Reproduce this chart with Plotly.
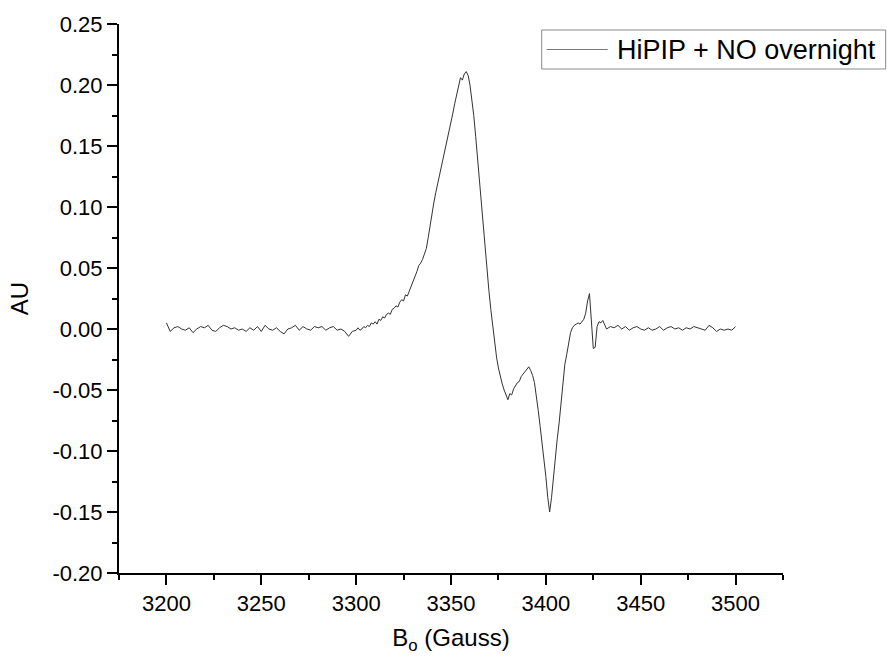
import plotly.graph_objects as go

# ---------------- data ----------------
field_G = [
    3200, 3202, 3204, 3206, 3208, 3210, 3212, 3214, 3216, 3218,
    3220, 3222, 3224, 3226, 3228, 3230, 3232, 3234, 3236, 3238,
    3240, 3242, 3244, 3246, 3248, 3250, 3252, 3254, 3256, 3258,
    3260, 3262, 3264, 3266, 3268, 3270, 3272, 3274, 3276, 3278,
    3280, 3282, 3284, 3286, 3288, 3290, 3292, 3294, 3296, 3298,
    3300, 3301, 3302, 3303, 3304, 3305, 3306, 3307, 3308, 3309,
    3310, 3311, 3312, 3313, 3314, 3315, 3316, 3317, 3318, 3319,
    3320, 3321, 3322, 3323, 3324, 3325, 3326, 3327, 3328, 3329,
    3330, 3331, 3332, 3333, 3334, 3335, 3336, 3337, 3338, 3339,
    3340, 3341, 3342, 3343, 3344, 3345, 3346, 3347, 3348, 3349,
    3350, 3351, 3352, 3353, 3354, 3355, 3356, 3357, 3358, 3359,
    3360, 3361, 3362, 3363, 3364, 3365, 3366, 3367, 3368, 3369,
    3370, 3371, 3372, 3373, 3374, 3375, 3376, 3377, 3378, 3379,
    3380, 3381, 3382, 3383, 3384, 3385, 3386, 3387, 3388, 3389,
    3390, 3391, 3392, 3393, 3394, 3395, 3396, 3397, 3398, 3399,
    3400, 3401, 3402, 3403, 3404, 3405, 3406, 3407, 3408, 3409,
    3410, 3411, 3412, 3413, 3414, 3415, 3416, 3417, 3418, 3419,
    3420, 3421, 3422, 3423, 3424, 3425, 3426, 3427, 3428, 3429,
    3430, 3431, 3432,
    3434, 3436, 3438, 3440, 3442, 3444, 3446, 3448, 3450, 3452,
    3454, 3456, 3458, 3460, 3462, 3464, 3466, 3468, 3470, 3472,
    3474, 3476, 3478, 3480, 3482, 3484, 3486, 3488, 3490, 3492,
    3494, 3496, 3498, 3500,
]

signal_AU = [
    0.005, -0.002, 0.001, 0.002, 0.000, -0.001, 0.001, -0.003, 0.000, 0.002,
    0.001, 0.003, -0.001, -0.002, 0.001, 0.003, 0.002, 0.000, 0.001, -0.001,
    0.000, -0.002, 0.001, -0.001, 0.002, -0.002, 0.003, 0.000, -0.001, 0.001,
    -0.002, -0.004, 0.000, 0.001, 0.003, -0.001, 0.002, 0.000, -0.001, 0.002,
    0.001, 0.002, -0.001, 0.001, 0.002, -0.001, 0.000, -0.002, -0.006, -0.002,
    -0.001, 0.001, -0.001, 0.000, 0.002, 0.001, 0.003, 0.002, 0.005, 0.004,
    0.006, 0.004, 0.008, 0.007, 0.010, 0.009, 0.012, 0.013, 0.012, 0.016,
    0.017, 0.019, 0.018, 0.022, 0.024, 0.023, 0.028, 0.027, 0.031, 0.035,
    0.039, 0.042, 0.047, 0.052, 0.054, 0.057, 0.061, 0.066, 0.075, 0.086,
    0.096, 0.104, 0.112, 0.119, 0.126, 0.133, 0.140, 0.147, 0.154, 0.161,
    0.169, 0.177, 0.185, 0.193, 0.200, 0.206, 0.204, 0.209, 0.211, 0.208,
    0.200, 0.189, 0.175, 0.158, 0.140, 0.121, 0.101, 0.081, 0.062, 0.046,
    0.031, 0.016, 0.002, -0.011, -0.023, -0.032, -0.039, -0.045, -0.050, -0.055,
    -0.058, -0.053, -0.054, -0.049, -0.047, -0.044, -0.043, -0.039, -0.037, -0.035,
    -0.032, -0.031, -0.034, -0.038, -0.044, -0.054, -0.067, -0.080, -0.093, -0.107,
    -0.121, -0.138, -0.150, -0.138, -0.120, -0.103, -0.090, -0.077, -0.062, -0.043,
    -0.029, -0.021, -0.012, -0.003, 0.001, 0.003, 0.004, 0.005, 0.004, 0.006,
    0.008, 0.013, 0.023, 0.029, 0.008, -0.016, -0.015, 0.002, 0.006, 0.005,
    0.007, 0.003, 0.000,
    0.002, 0.001, 0.003, 0.000, 0.002, -0.001, 0.001, 0.002, 0.000, -0.001,
    0.001, -0.001, 0.000, 0.002, -0.001, 0.001, 0.002, 0.000, 0.001, -0.001,
    0.001, 0.000, 0.002, 0.001, 0.000, -0.001, 0.003, 0.001, -0.002, 0.000,
    -0.001, 0.000, -0.001, 0.002,
]

series_name = "HiPIP + NO overnight"

x_ticks = [3200, 3250, 3300, 3350, 3400, 3450, 3500]
y_ticks = [-0.20, -0.15, -0.10, -0.05, 0.00, 0.05, 0.10, 0.15, 0.20, 0.25]
y_ticktext = ["-0.20", "-0.15", "-0.10", "-0.05", "0.00", "0.05", "0.10", "0.15", "0.20", "0.25"]

# ---------------- figure ----------------
FONT = "Liberation Sans, Arial, sans-serif"
LINE_COLOR = "#333333"

fig = go.Figure()
fig.add_trace(go.Scatter(
    x=field_G, y=signal_AU, mode="lines", name=series_name,
    line=dict(color=LINE_COLOR, width=1),
    showlegend=False,
))

axis_common = dict(
    showline=True, linecolor="black", linewidth=2,
    ticks="outside", ticklen=10, tickwidth=2, tickcolor="black",
    showgrid=False, zeroline=False, mirror=False,
    tickfont=dict(family=FONT, size=22, color="black"),
)

fig.update_xaxes(
    range=[3175, 3525], tickmode="array", tickvals=x_ticks,
    minor=dict(ticks="outside", ticklen=5, tickwidth=2, tickcolor="black",
               dtick=25, tick0=3175, showgrid=False),
    title=dict(text="B<sub>o</sub>&nbsp;(Gauss)", font=dict(family=FONT, size=24, color="black"),
               standoff=14),
    **axis_common,
)
fig.update_yaxes(
    range=[-0.2, 0.25], tickmode="array", tickvals=y_ticks, ticktext=y_ticktext,
    minor=dict(ticks="outside", ticklen=5, tickwidth=2, tickcolor="black",
               dtick=0.025, tick0=-0.2, showgrid=False),
    title=dict(text="AU", font=dict(family=FONT, size=24, color="black"), standoff=17),
    **axis_common,
)

# Legend box (Origin style): frame, line sample and label, in paper coordinates
PX_L, PX_W, PX_B, PX_H = 119.3, 664.0, 573.0, 549.0


def px_x(p):
    return (p - PX_L) / PX_W


def px_y(p):
    return (PX_B - p) / PX_H


fig.add_shape(type="rect", xref="paper", yref="paper",
              x0=px_x(542), x1=px_x(886), y0=px_y(69), y1=px_y(30),
              line=dict(color="#8a8a8a", width=1), fillcolor="white", layer="above")
fig.add_shape(type="line", xref="paper", yref="paper",
              x0=px_x(547), x1=px_x(608), y0=px_y(49.5), y1=px_y(49.5),
              line=dict(color="#7a7a7a", width=1), layer="above")
fig.add_annotation(xref="paper", yref="paper", x=px_x(615), y=px_y(50),
                   xanchor="left", yanchor="middle", showarrow=False,
                   text=series_name,
                   font=dict(family=FONT, size=27, color="black"))

fig.update_layout(
    width=887, height=662,
    margin=dict(l=119, r=104, t=24, b=89),
    paper_bgcolor="white", plot_bgcolor="white",
    font=dict(family=FONT, color="black"),
    showlegend=False,
)

fig.write_html("out.html")
